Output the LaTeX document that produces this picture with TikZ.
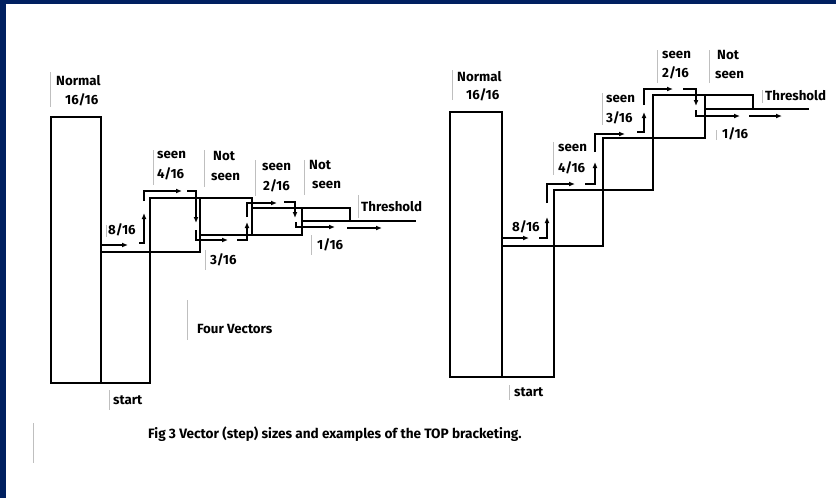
\documentclass[tikz,border=0pt]{standalone}
\usepackage{fontspec}
\setmainfont{Fira Sans}
\usetikzlibrary{arrows.meta}
\definecolor{navyband}{RGB}{0,32,96}
\begin{document}
\begin{tikzpicture}[x=1pt,y=-1pt,
  bar/.style={line width=1.5pt, line join=miter, line cap=rect},
  vec/.style={line width=1.6pt, -{Latex[length=6pt,width=5pt]}},
  lbl/.style={font=\fontsize{13.3}{15}\selectfont\bfseries, inner sep=0pt, anchor=west},
  tick/.style={draw=black!25, line width=0.6pt}]
\fill[white] (0,0) rectangle (836,498);
\useasboundingbox (0,0) rectangle (836,498);
\fill[navyband] (0,0) rectangle (836,4);
\fill[navyband] (0,0) rectangle (6,498);

% ---------------- left chart ----------------
\draw[bar] (51,117) rectangle (101,383);
\draw[bar] (101,383) -- (150,383) -- (150,198) -- (252,198) -- (252,235);
\draw[bar] (101,252) -- (200,252) -- (200,198);
\draw[bar] (200,235) -- (302,235) -- (302,208);
\draw[bar] (252,208) -- (350,208) -- (350,221);
\draw[bar] (302,221) -- (415,221);

\draw[vec] (102,245) -- (128,245);
\draw[vec] (139,243) -- (144,243) -- (144,213);
\draw[vec] (144,201) -- (144,191) -- (182,191);
\draw[vec] (187,191) -- (196,191) -- (196,223);
\draw[vec] (196,230) -- (196,240) -- (228,240);
\draw[vec] (237,240) -- (247,240) -- (247,222);
\draw[vec] (247,217) -- (247,203) -- (277,203);
\draw[vec] (284,202) -- (295,202) -- (295,218);
\draw[vec] (296,222) -- (296,227) -- (335,227);
\draw[vec] (347,228) -- (382,228);

\node[lbl] (ln1) at (56,81) {Normal};
\node[lbl] (ln2) at (65,100) {16/16};
\node[lbl] (ls1) at (157,155) {seen};
\node[lbl] (ls2) at (157,174) {4/16};
\node[lbl] (lt1) at (213,156) {Not};
\node[lbl] (lt2) at (211,177) {seen};
\node[lbl] (lu1) at (262,167) {seen};
\node[lbl] (lu2) at (263,186) {2/16};
\node[lbl] (lv1) at (309,165) {Not};
\node[lbl] (lv2) at (312,185) {seen};
\node[lbl] (lth) at (361,207) {Threshold};
\node[lbl] (l8) at (108,230) {8/16};
\node[lbl] (l3) at (210,260) {3/16};
\node[lbl] (l1) at (317,245) {1/16};
\node[lbl] (lfv) at (197,329) {Four Vectors};
\node[lbl] (lst) at (113,400) {start};

\draw[tick] (50,72) -- (50,107);
\draw[tick] (153,150) -- (153,185);
\draw[tick] (204,150) -- (204,187);
\draw[tick] (255,160) -- (255,196);
\draw[tick] (304,160) -- (304,195);
\draw[tick] (358,195) -- (358,218);
\draw[tick] (106,225) -- (106,237);
\draw[tick] (205,250) -- (205,270);
\draw[tick] (311,235) -- (311,255);
\draw[tick] (187,300) -- (187,340);
\draw[tick] (109,390) -- (109,410);

% ---------------- right chart ----------------
\draw[bar] (450,112) rectangle (502,377);
\draw[bar] (502,377) -- (554,377) -- (554,190) -- (653,190) -- (653,95) -- (753,95) -- (753,109);
\draw[bar] (502,246) -- (603,246) -- (603,138) -- (705,138) -- (705,95);
\draw[bar] (705,109) -- (808,109);

\draw[vec] (502,238) -- (529,238);
\draw[vec] (539,238) -- (547,238) -- (547,217);
\draw[vec] (547,203) -- (547,184) -- (575,184);
\draw[vec] (585,184) -- (595,184) -- (595,162);
\draw[vec] (595,152) -- (595,134) -- (625,134);
\draw[vec] (637,132) -- (644,132) -- (644,112);
\draw[vec] (644,105) -- (644,89) -- (673,89);
\draw[vec] (683,89) -- (696,89) -- (696,106);
\draw[vec] (696,110) -- (696,116) -- (740,116);
\draw[vec] (749,116) -- (782,116);

\node[lbl] (rn1) at (457,77) {Normal};
\node[lbl] (rn2) at (466,95) {16/16};
\node[lbl] (rs1) at (558,148) {seen};
\node[lbl] (rs2) at (558,168) {4/16};
\node[lbl] (rt1) at (606,99) {seen};
\node[lbl] (rt2) at (606,118) {3/16};
\node[lbl] (ru1) at (662,55) {seen};
\node[lbl] (ru2) at (662,73) {2/16};
\node[lbl] (rv1) at (717,55) {Not};
\node[lbl] (rv2) at (715,75) {seen};
\node[lbl] (rth) at (765,96) {Threshold};
\node[lbl] (r8) at (512,227) {8/16};
\node[lbl] (r1) at (722,134) {1/16};
\node[lbl] (rst) at (514,392) {start};

\draw[tick] (452,70) -- (452,100);
\draw[tick] (553,142) -- (553,175);
\draw[tick] (602,93) -- (602,125);
\draw[tick] (657,50) -- (657,83);
\draw[tick] (709,50) -- (709,83);
\draw[tick] (762,90) -- (762,103);
\draw[tick] (716,130) -- (716,140);
\draw[tick] (509,385) -- (509,400);

% ---------------- caption ----------------
\node[lbl, font=\fontsize{13.6}{15}\selectfont\bfseries] (cap) at (148,434) {Fig 3 Vector (step) sizes and examples of the TOP bracketing.};
\draw[tick] (33,423) -- (33,463);
\end{tikzpicture}
\end{document}
